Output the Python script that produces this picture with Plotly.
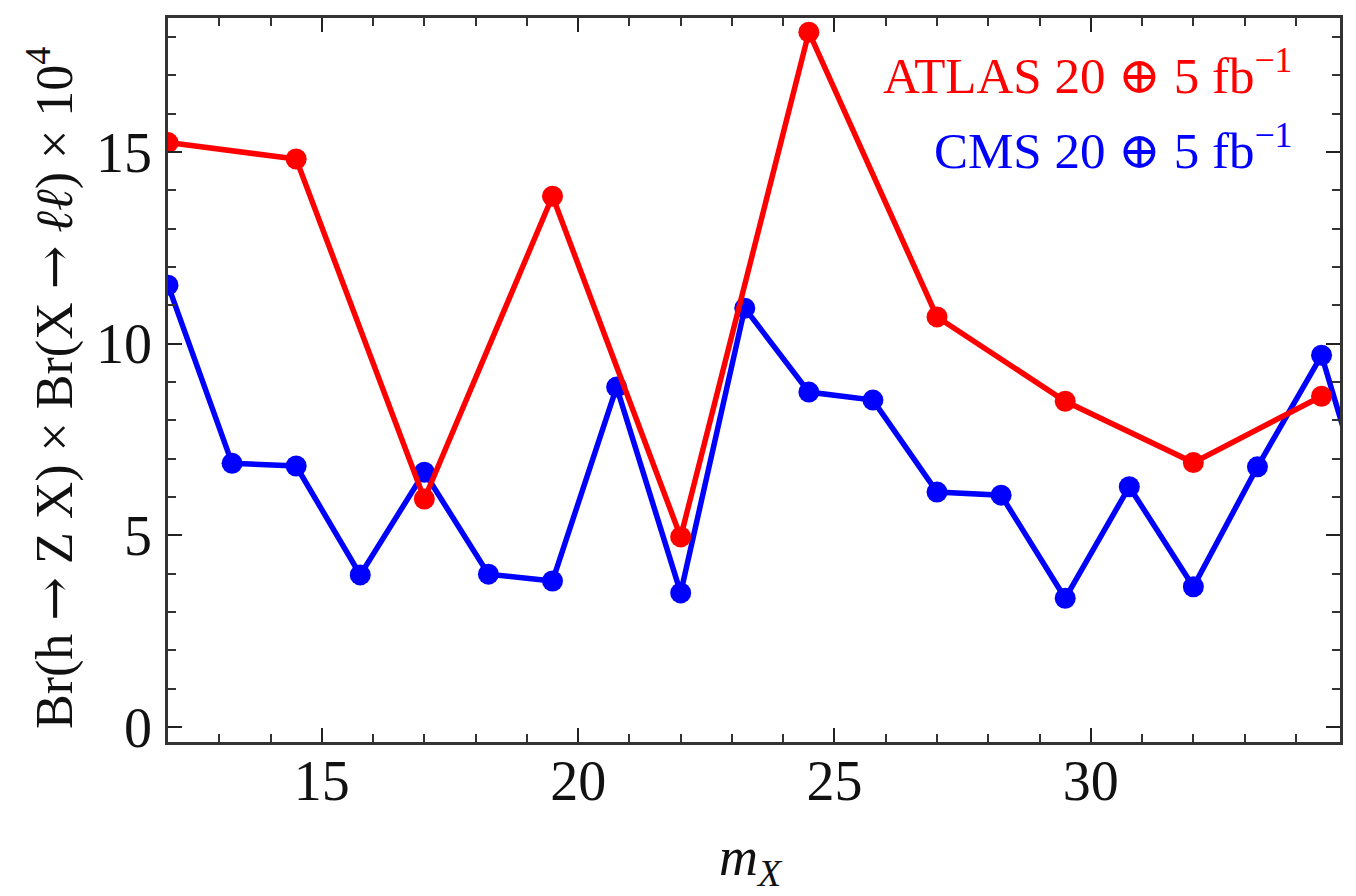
import plotly.graph_objects as go

# ATLAS 20 ⊕ 5 fb^-1 (red)
atlas_mx = [12.0, 14.5, 17.0, 19.5, 22.0, 24.5, 27.0, 29.5, 32.0, 34.5]
atlas_br = [15.25, 14.82, 5.95, 13.85, 4.96, 18.13, 10.70, 8.50, 6.90, 8.63]

# CMS 20 ⊕ 5 fb^-1 (blue)
cms_mx = [12.0, 13.25, 14.5, 15.75, 17.0, 18.25, 19.5, 20.75, 22.0, 23.25,
          24.5, 25.75, 27.0, 28.25, 29.5, 30.75, 32.0, 33.25, 34.5, 35.75]
cms_br = [11.53, 6.88, 6.81, 3.97, 6.65, 3.99, 3.81, 8.87, 3.50, 10.93,
          8.74, 8.53, 6.13, 6.05, 3.36, 6.27, 3.66, 6.79, 9.70, 4.10]

x_ticks = [15, 20, 25, 30]
y_ticks = [0, 5, 10, 15]

FONT = "Liberation Serif"
ARROW = '<span style="font-family:DejaVu Serif">→</span>'
OPLUS = '<span style="font-family:DejaVu Serif">⊕</span>'

fig = go.Figure()
fig.add_trace(go.Scatter(x=cms_mx, y=cms_br, mode="lines+markers",
                         line=dict(color="#0000FF", width=5.5),
                         marker=dict(color="#0000FF", size=21),
                         name="CMS", showlegend=False))
fig.add_trace(go.Scatter(x=atlas_mx, y=atlas_br, mode="lines+markers",
                         line=dict(color="#FF0000", width=5.5),
                         marker=dict(color="#FF0000", size=21),
                         name="ATLAS", showlegend=False))

axis_common = dict(
    showgrid=False, zeroline=False, showline=True, linecolor="#333333",
    linewidth=2.5, mirror="ticks", ticks="inside", ticklen=14, tickwidth=2,
    tickcolor="#222222",
    tickfont=dict(family=FONT, size=56, color="#111111"),
)

fig.update_xaxes(range=[12.0, 34.86], tickvals=x_ticks,
                 ticktext=[str(v) for v in x_ticks],
                 minor=dict(dtick=1, ticks="inside", ticklen=8, tickwidth=2,
                            tickcolor="#333333", showgrid=False),
                 ticklabelstandoff=-12,
                 **axis_common)
fig.update_yaxes(range=[-0.39, 18.5], tickvals=y_ticks,
                 ticktext=[str(v) for v in y_ticks],
                 minor=dict(dtick=1, ticks="inside", ticklen=8, tickwidth=2,
                            tickcolor="#333333", showgrid=False),
                 ticklabelstandoff=2,
                 **axis_common)

fig.add_annotation(text=f"Br(h {ARROW} Z X) × Br(X {ARROW} <i>ℓℓ</i>) × 10<sup>4</sup>",
                   xref="paper", yref="paper", x=0, y=0.5, xshift=-117, yshift=-8,
                   xanchor="center", yanchor="middle", textangle=-90,
                   showarrow=False,
                   font=dict(family=FONT, size=52, color="#111111"))
fig.add_annotation(text="<i>m</i><sub><i>X</i></sub>",
                   xref="paper", yref="paper", x=0.5, y=0, yshift=-118,
                   xshift=-3, xanchor="center", yanchor="middle",
                   showarrow=False,
                   font=dict(family=FONT, size=54, color="#111111"))
fig.add_annotation(text=f"ATLAS 20 {OPLUS} 5 fb<sup>−1</sup>",
                   xref="paper", yref="paper", x=1, y=1, xshift=-46, yshift=-54,
                   xanchor="right", yanchor="middle", showarrow=False,
                   font=dict(family=FONT, size=51, color="#FF0000"))
fig.add_annotation(text=f"CMS 20 {OPLUS} 5 fb<sup>−1</sup>",
                   xref="paper", yref="paper", x=1, y=1, xshift=-46, yshift=-129,
                   xanchor="right", yanchor="middle", showarrow=False,
                   font=dict(family=FONT, size=51, color="#0000FF"))

fig.update_layout(width=1356, height=896,
                  margin=dict(l=168, r=16, t=18, b=154, autoexpand=False),
                  plot_bgcolor="white", paper_bgcolor="white",
                  font=dict(family=FONT))

fig.write_html("out.html")
